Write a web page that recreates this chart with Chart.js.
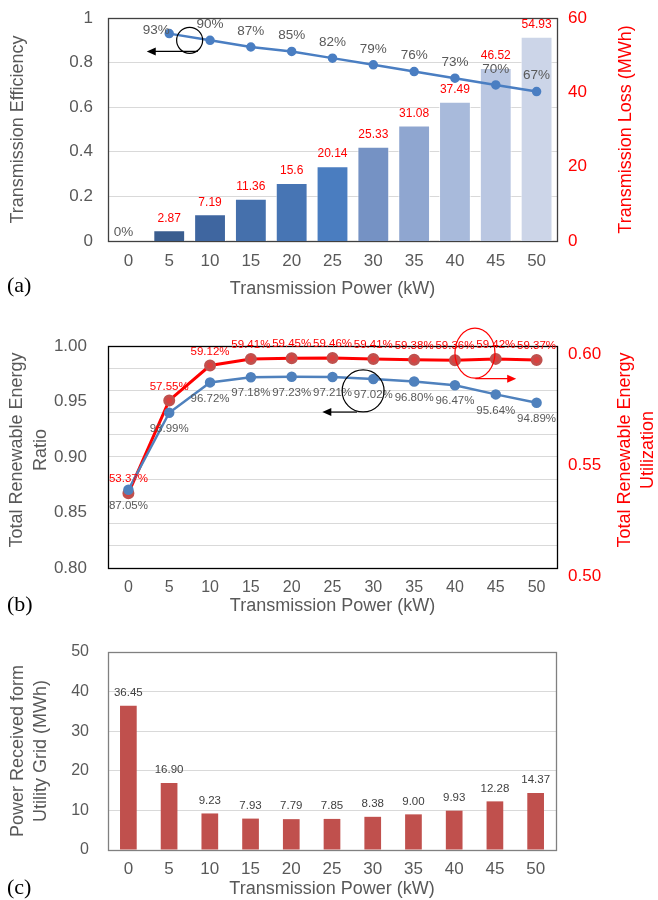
<!DOCTYPE html>
<html>
<head>
<meta charset="utf-8">
<script src="https://cdn.jsdelivr.net/npm/chart.js@4.4.0/dist/chart.umd.min.js"></script>
<style>
    body { margin: 0; background: #fff; width: 658px; height: 900px; position: relative; overflow: hidden; }
    canvas { position: absolute; left: 0; }
    .tag { position: absolute; left: 7px; font-family: "Liberation Serif", "Times New Roman", serif; font-size: 22px; color: #000; line-height: 24px; }
</style>
</head>
<body>
<canvas id="chart-a" width="658" height="300" style="top:0"></canvas>
<canvas id="chart-b" width="658" height="320" style="top:300px"></canvas>
<canvas id="chart-c" width="658" height="290" style="top:610px"></canvas>
<div class="tag" style="top:273px">(a)</div>
<div class="tag" style="top:592px">(b)</div>
<div class="tag" style="top:875px">(c)</div>

<script>
// data
const powerLabels = ['0', '5', '10', '15', '20', '25', '30', '35', '40', '45', '50'];

// (a) transmission efficiency (fraction) and loss (MWh)
const efficiency = [0, 0.93, 0.90, 0.87, 0.85, 0.82, 0.79, 0.76, 0.73, 0.70, 0.67];
const lossMWh = [0, 2.87, 7.19, 11.36, 15.6, 20.14, 25.33, 31.08, 37.49, 46.52, 54.93];

// (b) renewable ratio / utilization (%)
const renewableRatio = [87.05, 93.99, 96.72, 97.18, 97.23, 97.21, 97.02, 96.80, 96.47, 95.64, 94.89];
const renewableUtil = [53.37, 57.55, 59.12, 59.41, 59.45, 59.46, 59.41, 59.38, 59.36, 59.42, 59.37];

// (c) power received from utility grid (MWh)
const gridPower = [36.45, 16.90, 9.23, 7.93, 7.79, 7.85, 8.38, 9.00, 9.93, 12.28, 14.37];

const FONT = '"Liberation Sans", Arial, sans-serif';
const GRAY = '#595959';
const RED = '#FF0000';
const GRID = '#D9D9D9';
const lossPalette = ['#3A5D8F', '#3A5D8F', '#3F66A0', '#4570AC', '#4775B4', '#4A7DC0',
    '#7592C4', '#8FA6D0', '#A8BADB', '#BAC7E2', '#CCD5E8'];

Chart.defaults.font.family = FONT;
Chart.defaults.animation = false;

// draws value labels next to points / bars
const valueLabels = {
    id: 'valueLabels',
    afterDatasetsDraw(chart, args, opts) {
        const ctx = chart.ctx;
        const bottom = chart.chartArea.bottom;
        (opts.sets || []).forEach((set) => {
            const meta = chart.getDatasetMeta(set.dataset);
            meta.data.forEach((el, i) => {
                const text = set.text[i];
                if (text === null || text === '') return;
                const shift = (set.shift && set.shift[i]) || [0, set.dy];
                let y = el.y + shift[1];
                if (set.baseDy !== undefined && Math.abs(el.y - bottom) < 1) y = bottom + set.baseDy;
                ctx.save();
                ctx.fillStyle = set.color;
                ctx.font = set.size + 'px ' + FONT;
                ctx.textAlign = 'center';
                ctx.textBaseline = 'middle';
                ctx.fillText(text, el.x + shift[0], y);
                ctx.restore();
            });
        });
    }
};

// box around the plot area
const frame = {
    id: 'frame',
    beforeDatasetsDraw(chart, args, opts) {
        const { left, top, right, bottom } = chart.chartArea;
        const ctx = chart.ctx;
        ctx.save();
        ctx.strokeStyle = opts.color || '#404040';
        ctx.lineWidth = 1.3;
        ctx.strokeRect(Math.round(left) + 0.5, Math.round(top) + 0.5, Math.round(right - left), Math.round(bottom - top));
        ctx.restore();
    }
};

// right-hand axis titles read bottom-to-top like the left ones
const sideTitle = {
    id: 'sideTitle',
    afterDraw(chart, args, opts) {
        if (!opts.lines) return;
        const ctx = chart.ctx;
        const cy = opts.y !== undefined ? opts.y : (chart.chartArea.top + chart.chartArea.bottom) / 2;
        ctx.save();
        ctx.translate(opts.x, cy);
        ctx.rotate(-Math.PI / 2);
        ctx.fillStyle = opts.color;
        ctx.font = opts.size + 'px ' + FONT;
        ctx.textAlign = 'center';
        ctx.textBaseline = 'middle';
        opts.lines.forEach((t, k) => ctx.fillText(t, 0, k * opts.lineHeight));
        ctx.restore();
    }
};

function drawArrow(ctx, x1, y1, x2, y2, color) {
    const ang = Math.atan2(y2 - y1, x2 - x1);
    ctx.strokeStyle = color;
    ctx.fillStyle = color;
    ctx.lineWidth = 1.2;
    ctx.beginPath();
    ctx.moveTo(x1, y1);
    ctx.lineTo(x2 - 6 * Math.cos(ang), y2 - 6 * Math.sin(ang));
    ctx.stroke();
    ctx.beginPath();
    ctx.moveTo(x2, y2);
    ctx.lineTo(x2 - 9 * Math.cos(ang) + 4 * Math.sin(ang), y2 - 9 * Math.sin(ang) - 4 * Math.cos(ang));
    ctx.lineTo(x2 - 9 * Math.cos(ang) - 4 * Math.sin(ang), y2 - 9 * Math.sin(ang) + 4 * Math.cos(ang));
    ctx.closePath();
    ctx.fill();
}

// circles + arrows pointing to the axis a series belongs to
const axisMarks = {
    id: 'axisMarks',
    afterDatasetsDraw(chart, args, opts) {
        const ctx = chart.ctx;
        const xs = chart.scales.x;
        (opts.items || []).forEach((m) => {
            const ys = chart.scales[m.axis];
            ctx.save();
            ctx.strokeStyle = m.color;
            ctx.lineWidth = 1.2;
            ctx.beginPath();
            ctx.ellipse(xs.getPixelForValue(m.cx), ys.getPixelForValue(m.cy), m.rx, m.ry, 0, 0, Math.PI * 2);
            ctx.stroke();
            const ay = ys.getPixelForValue(m.ay);
            drawArrow(ctx, xs.getPixelForValue(m.ax1), ay, xs.getPixelForValue(m.ax2), ay, m.color);
            ctx.restore();
        });
    }
};

// fixed box sizes so the plot areas line up with the figure
function fixWidth(w) {
    return (s) => { s.width = w; s.paddingTop = 0; s.paddingBottom = 0; };
}

function xAxis(height, tickSize, tickPad, titlePad) {
    return {
        offset: true,
        grid: { display: false, drawTicks: false },
        border: { display: false },
        ticks: { color: GRAY, font: { size: tickSize }, padding: tickPad, autoSkip: false, maxRotation: 0 },
        title: { display: true, text: 'Transmission Power (kW)', color: GRAY, font: { size: 18 }, padding: { top: 0, bottom: titlePad } },
        afterFit: (s) => { s.height = height; }
    };
}

// ---------- (a) ----------
new Chart(document.getElementById('chart-a'), {
    data: {
        labels: powerLabels,
        datasets: [
            {
                type: 'line',
                label: 'Transmission Efficiency',
                data: efficiency,
                yAxisID: 'y',
                order: 0,
                borderColor: '#4A7EC2',
                backgroundColor: '#4A7EC2',
                borderWidth: 2.5,
                pointRadius: (c) => (c.dataIndex === 0 ? 0 : 3.5),
                segment: { borderColor: (c) => (c.p0DataIndex === 0 ? 'transparent' : '#4A7EC2') },
                tension: 0
            },
            {
                type: 'bar',
                label: 'Transmission Loss',
                data: lossMWh,
                yAxisID: 'y2',
                order: 1,
                backgroundColor: lossPalette,
                borderColor: 'rgba(255,255,255,0.7)',
                borderWidth: 1,
                categoryPercentage: 1,
                barPercentage: 0.78
            }
        ]
    },
    options: {
        responsive: false,
        layout: { padding: { top: 18, left: 0, right: 0, bottom: 0 } },
        scales: {
            x: xAxis(59, 17, 10, 0),
            y: {
                position: 'left',
                min: 0,
                max: 1,
                grid: { color: GRID, drawTicks: false },
                border: { display: false },
                ticks: { stepSize: 0.2, color: GRAY, font: { size: 17 }, padding: 15, autoSkip: false,
                    callback: (v) => String(Math.round(v * 10) / 10) },
                title: { display: true, text: 'Transmission Efficiency', color: GRAY, font: { size: 18 }, padding: { top: 7, bottom: 0 } },
                afterFit: fixWidth(108)
            },
            y2: {
                position: 'right',
                min: 0,
                max: 60,
                grid: { display: false, drawTicks: false },
                border: { display: false },
                ticks: { stepSize: 20, color: RED, font: { size: 17 }, padding: 11, autoSkip: false },
                afterFit: fixWidth(101)
            }
        },
        plugins: {
            legend: { display: false },
            tooltip: { enabled: false },
            frame: { color: '#404040' },
            sideTitle: { lines: ['Transmission Loss (MWh)'], x: 626, color: RED, size: 18, lineHeight: 22 },
            valueLabels: {
                sets: [
                    { dataset: 1, text: lossMWh.map((v) => (v ? String(v) : '')), dy: -12, color: RED, size: 12 },
                    { dataset: 0, text: efficiency.map((v) => Math.round(v * 100) + '%'), dy: -16, baseDy: -9,
                        shift: [[-5, 0], [-13, -3]], color: GRAY, size: 13.5 }
                ]
            },
            axisMarks: {
                items: [{ axis: 'y', color: '#000', cx: 1.5, cy: 0.9, rx: 13, ry: 13, ax1: 1.7, ax2: 0.45, ay: 0.85 }]
            }
        }
    },
    plugins: [frame, valueLabels, axisMarks, sideTitle]
});

// ---------- (b) ----------
new Chart(document.getElementById('chart-b'), {
    type: 'line',
    data: {
        labels: powerLabels,
        datasets: [
            {
                label: 'Total Renewable Energy Ratio',
                data: renewableRatio.map((v) => v / 100),
                yAxisID: 'y',
                borderColor: '#4F81BD',
                backgroundColor: '#4F81BD',
                borderWidth: 2.5,
                pointRadius: 4,
                tension: 0
            },
            {
                label: 'Total Renewable Energy Utilization',
                data: renewableUtil.map((v) => v / 100),
                yAxisID: 'y2',
                borderColor: RED,
                backgroundColor: '#D9413F',
                pointBorderColor: '#C0504D',
                borderWidth: 3,
                pointRadius: 4.5,
                tension: 0
            }
        ]
    },
    options: {
        responsive: false,
        layout: { padding: { top: 46, left: 0, right: 0, bottom: 0 } },
        scales: {
            x: xAxis(52, 16, 10, 3),
            y: {
                position: 'left',
                min: 0.8,
                max: 1.0,
                grid: { display: false, drawTicks: false },
                border: { display: false },
                ticks: { stepSize: 0.05, color: GRAY, font: { size: 17 }, padding: 21, autoSkip: false,
                    callback: (v) => v.toFixed(2) },
                afterFit: fixWidth(108)
            },
            y2: {
                position: 'right',
                min: 0.5,
                max: 0.6,
                grid: { color: GRID, drawTicks: false },
                border: { display: false },
                ticks: { stepSize: 0.01, color: RED, font: { size: 17 }, padding: 11, autoSkip: false, labelOffset: 8,
                    callback: (v) => (Math.round(v * 100) % 5 === 0 ? v.toFixed(2) : '') },
                afterFit: fixWidth(101)
            }
        },
        plugins: {
            legend: { display: false },
            tooltip: { enabled: false },
            frame: { color: '#000' },
            valueLabels: {
                sets: [
                    { dataset: 0, text: renewableRatio.map((v) => v.toFixed(2) + '%'), dy: 16, color: GRAY, size: 11.5 },
                    { dataset: 1, text: renewableUtil.map((v) => v.toFixed(2) + '%'), dy: -14, color: RED, size: 11.5 }
                ]
            },
            axisMarks: {
                items: [
                    { axis: 'y', color: '#000', cx: 5.75, cy: 0.9595, rx: 21, ry: 21, ax1: 5.6, ax2: 4.75, ay: 0.9405 },
                    { axis: 'y2', color: RED, cx: 8.49, cy: 0.5968, rx: 20, ry: 25, ax1: 8.5, ax2: 9.5, ay: 0.5853 }
                ]
            }
        }
    },
    plugins: [frame, valueLabels, axisMarks,
        { id: 'leftTitleB', afterDraw: (c) => sideTitle.afterDraw(c, null,
            { lines: ['Total Renewable Energy', 'Ratio'], x: 17, y: 150, color: GRAY, size: 18, lineHeight: 24 }) },
        { id: 'rightTitleB', afterDraw: (c) => sideTitle.afterDraw(c, null,
            { lines: ['Total Renewable Energy', 'Utilization'], x: 625, y: 150, color: RED, size: 18, lineHeight: 23 }) }]
});

// ---------- (c) ----------
new Chart(document.getElementById('chart-c'), {
    type: 'bar',
    data: {
        labels: powerLabels,
        datasets: [
            {
                label: 'Power Received from Utility Grid',
                data: gridPower,
                backgroundColor: '#C0504D',
                categoryPercentage: 1,
                barPercentage: 0.41
            }
        ]
    },
    options: {
        responsive: false,
        layout: { padding: { top: 42, left: 0, right: 102, bottom: 0 } },
        scales: {
            x: xAxis(50, 17, 9, 0),
            y: {
                position: 'left',
                min: 0,
                max: 50,
                grid: { color: GRID, drawTicks: false },
                border: { display: false },
                ticks: { stepSize: 10, color: GRAY, font: { size: 16 }, padding: 19, autoSkip: false },
                title: { display: true, text: ['Power Received form', 'Utility Grid (MWh)'], color: GRAY,
                    font: { size: 18, lineHeight: 1.3 }, padding: { top: 6, bottom: 0 } },
                afterFit: fixWidth(108)
            }
        },
        plugins: {
            legend: { display: false },
            tooltip: { enabled: false },
            frame: { color: '#808080' },
            valueLabels: {
                sets: [
                    { dataset: 0, text: gridPower.map((v) => v.toFixed(2)), dy: -13, color: '#404040', size: 11.5 }
                ]
            }
        }
    },
    plugins: [frame, valueLabels]
});
</script>
</body>
</html>
